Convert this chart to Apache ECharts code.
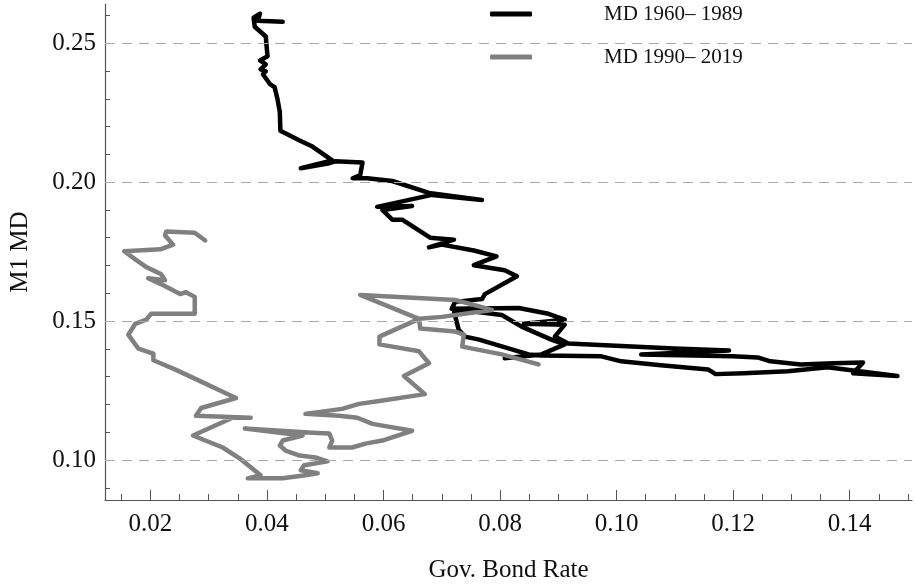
<!DOCTYPE html>
<html>
<head>
<meta charset="utf-8">
<script src="https://cdn.jsdelivr.net/npm/echarts@6/dist/echarts.min.js"></script>
<style>
	html, body { margin: 0; padding: 0; background: #fff; }
	#main { width: 916px; height: 588px; }
</style>
</head>
<body>
<div id="main"></div>
<script>
// MD 1960-1989 (gov. bond rate, M1 MD)
var blackRate = [0.0427,0.0384,0.0388,0.0377,0.0379,0.0398,0.0399,0.0401,0.0388,0.0398,
	0.0389,0.0398,0.0393,0.0405,0.0413,0.0418,0.0422,0.0423,0.0456,0.0478,
	0.0512,0.0458,0.0507,0.0517,0.0564,0.0560,0.0547,0.0572,0.0615,0.0678,
	0.0769,0.0683,0.0589,0.0649,0.0598,0.0615,0.0632,0.0680,0.0721,0.0678,
	0.0700,0.0755,0.0794,0.0755,0.0808,0.0829,0.0774,0.0769,0.0723,0.0717,
	0.0832,0.0883,0.0911,0.0841,0.0911,0.0894,0.0917,
	0.1099,0.1193,0.1042,0.1199,0.1242,0.1264,0.1316,0.1372,0.1423,0.1406,0.1482,
	0.1362,0.1294,0.1218,0.1170,0.1157,0.1076,0.1008,0.0974,0.0871,0.0849,0.0764,0.0740,0.0729,0.0721,
	0.0735,0.0803,0.0837,0.0888,0.0911,0.0871,0.0808];
var blackMD = [0.2577,0.2581,0.2606,0.2592,0.2559,0.2524,0.2495,0.2453,0.2438,0.2424,
	0.2406,0.2399,0.2388,0.2353,0.2342,0.2299,0.2253,0.2185,0.2150,0.2128,
	0.2078,0.2050,0.2068,0.2075,0.2071,0.2025,0.2014,0.2014,0.2004,0.1961,
	0.1936,0.1954,0.1911,0.1914,0.1900,0.1865,0.1865,0.1800,0.1793,0.1765,
	0.1775,0.1754,0.1733,0.1701,0.1683,0.1661,0.1597,0.1579,0.1569,0.1544,
	0.1547,0.1526,0.1505,0.1490,0.1487,0.1444,0.1419,
	0.1401,0.1394,0.1380,0.1373,0.1369,0.1355,0.1344,0.1348,0.1351,0.1312,0.1302,
	0.1334,0.1319,0.1312,0.1309,0.1326,0.1341,0.1355,0.1373,0.1376,0.1380,0.1433,0.1444,0.1469,0.1533,
	0.1540,0.1522,0.1480,0.1433,0.1416,0.1380,0.1366];

// MD 1990-2019
var grayRate = [0.0866,0.0803,0.0735,0.0738,0.0723,0.0663,0.0661,0.0560,0.0723,0.0786,
	0.0700,0.0661,0.0593,0.0593,0.0661,0.0678,0.0635,0.0671,0.0593,0.0558,
	0.0529,0.0466,0.0524,0.0555,0.0581,0.0649,0.0598,0.0569,0.0546,0.0507,
	0.0512,0.0507,0.0478,0.0362,0.0461,0.0427,0.0422,0.0432,0.0456,0.0483,
	0.0504,0.0464,0.0458,0.0487,0.0466,0.0427,0.0367,0.0389,0.0353,0.0324,
	0.0273,0.0341,0.0372,0.0278,0.0287,0.0347,0.0321,0.0278,0.0242,0.0205,
	0.0205,0.0179,0.0162,0.0174,0.0193,0.0201,0.0276,0.0276,0.0261,0.0251,
	0.0218,0.0196,0.0225,0.0218,0.0193,0.0174,0.0155,0.0217,0.0239,0.0225,
	0.0227,0.0276,0.0294];
var grayMD = [0.1344,0.1380,0.1408,0.1451,0.1462,0.1473,0.1508,0.1594,0.1576,0.1540,
	0.1515,0.1508,0.1444,0.1416,0.1391,0.1348,0.1302,0.1237,0.1212,0.1202,
	0.1184,0.1166,0.1159,0.1152,0.1130,0.1105,0.1070,0.1059,0.1045,0.1045,
	0.1070,0.1095,0.1098,0.1113,0.1088,0.1070,0.1052,0.1034,0.1016,0.1009,
	0.0995,0.0981,0.0963,0.0952,0.0945,0.0934,0.0934,0.0945,0.1006,0.1045,
	0.1088,0.1152,0.1152,0.1159,0.1187,0.1223,0.1248,0.1291,0.1326,0.1359,
	0.1383,0.1401,0.1451,0.1490,0.1505,0.1526,0.1526,0.1587,0.1604,0.1597,
	0.1633,0.1654,0.1647,0.1669,0.1694,0.1722,0.1751,0.1758,0.1775,0.1808,
	0.1822,0.1818,0.1790];

var seriesNames = ['MD 1960\u2013 1989', 'MD 1990\u2013 2019'];

// ticks
var xMajor = [0.02, 0.04, 0.06, 0.08, 0.10, 0.12, 0.14];
var xMinor = [0.015, 0.025, 0.03, 0.035, 0.045, 0.05, 0.055, 0.065, 0.07, 0.075,
	0.085, 0.09, 0.095, 0.105, 0.11, 0.115, 0.125, 0.13, 0.135, 0.145, 0.15];
var yMajor = [0.10, 0.15, 0.20, 0.25];
var yMinor = [0.09, 0.11, 0.12, 0.13, 0.14, 0.16, 0.17, 0.18, 0.19, 0.21, 0.22, 0.23, 0.24, 0.26];
var gridLevels = [0.10, 0.15, 0.20, 0.25];

var xMin = 0.0122, xMax = 0.1507;
var yMin = 0.0856, yMax = 0.2641;

function zip(a, b){
	var out = [];
	for (var i = 0; i < a.length; i++) {
		out.push([a[i], b[i]]);
	}
	return out;
}

var FONT = 'Liberation Serif';
var AXIS_COLOR = '#555';
var TEXT_COLOR = '#111';

var myChart = echarts.init(document.getElementById('main'));
var option = {
	animation: false,
	backgroundColor: '#fff',
	grid: {
		left: 102,
		right: 4,
		top: 4,
		bottom: 83
	},
	legend: {
		data: seriesNames,
		orient: 'vertical',
		left: 490,
		top: 2,
		padding: 0,
		itemWidth: 42,
		itemHeight: 5,
		itemGap: 19,
		icon: 'roundRect',
		textStyle: {
			fontFamily: FONT,
			fontSize: 21,
			color: TEXT_COLOR,
			lineHeight: 24,
			padding: [0, 0, 0, 67]
		}
	},
	xAxis: [
		{
			type: 'value',
			min: xMin,
			max: xMax,
			name: 'Gov. Bond Rate',
			nameLocation: 'middle',
			nameGap: 58,
			nameTextStyle: { fontFamily: FONT, fontSize: 25, color: TEXT_COLOR },
			axisLine: { show: true, onZero: false, lineStyle: { color: AXIS_COLOR, width: 1.2 } },
			axisTick: { show: true, inside: true, length: 10, customValues: xMajor, lineStyle: { color: AXIS_COLOR } },
			axisLabel: {
				customValues: xMajor,
				margin: 12,
				fontFamily: FONT,
				fontSize: 25,
				color: TEXT_COLOR,
				formatter: function(v){ return v.toFixed(2); }
			},
			splitLine: { show: false }
		},
		{
			// minor ticks
			type: 'value',
			position: 'bottom',
			min: xMin,
			max: xMax,
			axisLine: { show: false, onZero: false },
			axisTick: { show: true, inside: true, length: 6, customValues: xMinor, lineStyle: { color: AXIS_COLOR } },
			axisLabel: { show: false },
			splitLine: { show: false }
		}
	],
	yAxis: [
		{
			type: 'value',
			min: yMin,
			max: yMax,
			name: 'M1 MD',
			nameLocation: 'middle',
			nameGap: 72,
			nameRotate: 90,
			nameTextStyle: { fontFamily: FONT, fontSize: 25, color: TEXT_COLOR },
			axisLine: { show: true, onZero: false, lineStyle: { color: AXIS_COLOR, width: 1.2 } },
			axisTick: { show: true, inside: true, length: 9, customValues: yMajor, lineStyle: { color: AXIS_COLOR } },
			axisLabel: {
				customValues: yMajor,
				margin: 9,
				fontFamily: FONT,
				fontSize: 25,
				color: TEXT_COLOR,
				formatter: function(v){ return v.toFixed(2); }
			},
			splitLine: { show: false }
		},
		{
			type: 'value',
			position: 'left',
			min: yMin,
			max: yMax,
			axisLine: { show: false, onZero: false },
			axisTick: { show: true, inside: true, length: 5, customValues: yMinor, lineStyle: { color: AXIS_COLOR } },
			axisLabel: { show: false },
			splitLine: { show: false }
		}
	],
	series: [
		{
			// dashed reference lines
			type: 'line',
			data: [],
			z: 1,
			silent: true,
			markLine: {
				silent: true,
				symbol: 'none',
				label: { show: false },
				lineStyle: { color: '#aaa', type: [10, 7], width: 1 },
				data: gridLevels.map(function(v){ return { yAxis: v }; })
			}
		},
		{
			name: seriesNames[0],
			type: 'line',
			data: zip(blackRate, blackMD),
			showSymbol: false,
			symbol: 'none',
			color: '#000',
			z: 3,
			lineStyle: { color: '#000', width: 4.5, cap: 'round', join: 'round' }
		},
		{
			name: seriesNames[1],
			type: 'line',
			data: zip(grayRate, grayMD),
			showSymbol: false,
			symbol: 'none',
			color: '#808080',
			z: 4,
			lineStyle: { color: '#808080', width: 4.5, cap: 'round', join: 'round' }
		}
	]
};
myChart.setOption(option);
</script>
</body>
</html>
